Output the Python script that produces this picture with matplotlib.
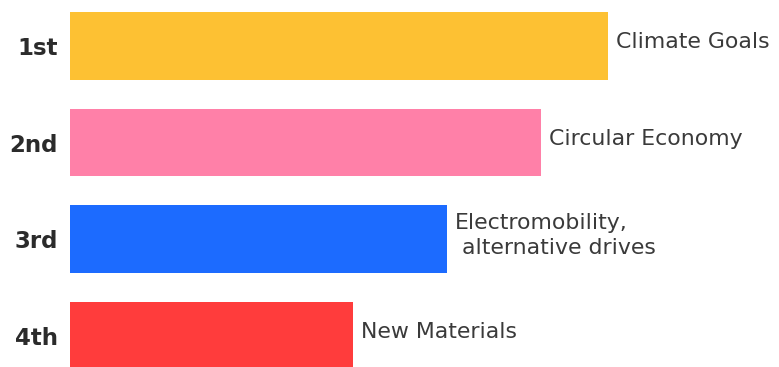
import matplotlib.pyplot as plt

# ranking of topics (bar length = relative importance score)
ranks = ["1st", "2nd", "3rd", "4th"]
topics = ["Climate Goals", "Circular Economy", "Electromobility,\n alternative drives", "New Materials"]
scores = [538, 471, 377, 283]
colors = ["#FDC133", "#FF80A8", "#1C6BFF", "#FF3C3C"]

plt.rcParams["font.family"] = ["DejaVu Sans"]

fig = plt.figure(figsize=(7.79, 3.67), dpi=100)
ax = fig.add_axes([70 / 779, 0, 1 - 70 / 779, 1])

pos = list(range(len(ranks)))
ax.barh(pos, scores, height=0.7, color=colors)

for y, s, t in zip(pos, scores, topics):
    ax.text(s + 8, y - 0.04, t, va="center", ha="left", fontsize=15.8,
            color="#3a3a3a", linespacing=1.32)

ax.set_xlim(0, 709)
ax.set_ylim(3.321, -0.476)
ax.set_yticks(pos)
ax.set_yticklabels(ranks, fontsize=16.5, fontweight="bold", color="#2b2b2b")
ax.tick_params(axis="y", length=0, pad=9)
ax.set_xticks([])
for sp in ax.spines.values():
    sp.set_visible(False)

fig.savefig("out.png", dpi=100)
